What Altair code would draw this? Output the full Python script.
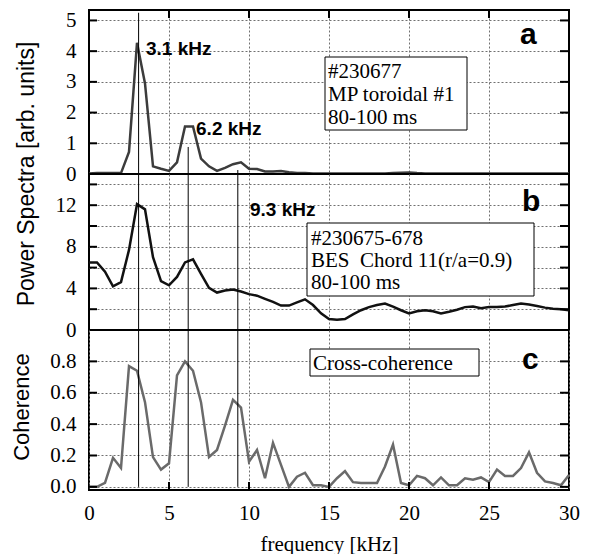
import altair as alt
import pandas as pd

# ---------------- data ----------------
freq = [0.0, 0.5, 1.0, 1.5, 2.0, 2.5, 3.0, 3.5, 4.0, 4.5,
        5.0, 5.5, 6.0, 6.5, 7.0, 7.5, 8.0, 8.5, 9.0, 9.5,
        10.0, 10.5, 11.0, 11.5, 12.0, 12.5, 13.0, 13.5, 14.0, 14.5,
        15.0, 15.5, 16.0, 16.5, 17.0, 17.5, 18.0, 18.5, 19.0, 19.5,
        20.0, 20.5, 21.0, 21.5, 22.0, 22.5, 23.0, 23.5, 24.0, 24.5,
        25.0, 25.5, 26.0, 26.5, 27.0, 27.5, 28.0, 28.5, 29.0, 29.5, 30.0]

mp_power = [0.02, 0.03, 0.03, 0.03, 0.03, 0.72, 4.27, 2.95, 0.25, 0.17,
            0.10, 0.38, 1.55, 1.55, 0.50, 0.25, 0.10, 0.20, 0.32, 0.38,
            0.17, 0.16, 0.08, 0.08, 0.10, 0.06, 0.03, 0.03, 0.02, 0.02,
            0.02, 0.02, 0.02, 0.02, 0.02, 0.02, 0.02, 0.02, 0.03, 0.04,
            0.05, 0.03, 0.02, 0.02, 0.02, 0.02, 0.02, 0.02, 0.02, 0.02,
            0.02, 0.02, 0.02, 0.02, 0.02, 0.02, 0.02, 0.02, 0.02, 0.02, 0.02]

bes_power = [6.5, 6.5, 5.6, 4.2, 4.6, 7.7, 12.1, 11.6, 7.0, 4.7,
             4.3, 5.1, 6.5, 6.8, 5.4, 4.05, 3.6, 3.8, 3.9, 3.7,
             3.45, 3.3, 3.0, 2.7, 2.35, 2.35, 2.65, 2.95, 2.4, 1.6,
             1.05, 0.98, 1.05, 1.5, 1.9, 2.2, 2.4, 2.55, 2.25, 1.9,
             1.6, 1.8, 1.9, 1.8, 1.6, 1.75, 1.95, 2.2, 2.25, 2.1,
             2.2, 2.2, 2.25, 2.4, 2.55, 2.45, 2.3, 2.15, 2.05, 2.0, 1.9]

coherence = [0.0, 0.0, 0.025, 0.185, 0.12, 0.77, 0.74, 0.54, 0.19, 0.11,
             0.15, 0.71, 0.80, 0.74, 0.54, 0.19, 0.235, 0.39, 0.555, 0.505,
             0.16, 0.235, 0.055, 0.28, 0.14, 0.0, 0.065, 0.09, 0.01, 0.01,
             0.0, 0.055, 0.10, 0.03, 0.025, 0.025, 0.025, 0.13, 0.27, 0.025,
             0.01, 0.07, 0.055, 0.01, 0.06, 0.01, 0.01, 0.055, 0.045, 0.06,
             0.03, 0.11, 0.07, 0.07, 0.12, 0.22, 0.09, 0.035, 0.025, 0.01, 0.075]

peak_freqs = [3.1, 6.2, 9.3]
peak_tops_a = [5.25, 0.88, 0.13]
peak_labels_a = ["3.1 kHz", "6.2 kHz"]
peak_label_x_a = [3.56, 6.69]
peak_label_y_a = [3.87, 1.28]
peak_labels_b = ["9.3 kHz"]
peak_label_x_b = [10.06]
peak_label_y_b = [10.96]

x_grid_vals = [5, 10, 15, 20, 25]
x_label_vals = [0, 5, 10, 15, 20, 25, 30]
a_ticks = [0, 1, 2, 3, 4, 5]
b_ticks = [0, 2, 4, 6, 8, 10, 12, 14]
c_ticks = [0.0, 0.2, 0.4, 0.6, 0.8]

box_a_text = "#230677\nMP toroidal #1\n80-100 ms"
box_b_text = "#230675-678\nBES\u00a0 Chord 11(r/a=0.9)\n80-100 ms"
box_c_text = "Cross-coherence"

# ---------------- layout ----------------
W, HA, HB, HC = 480, 164, 156, 160
SERIF = "Liberation Serif"
SANS = "Liberation Sans"

xs = alt.Scale(domain=[0, 30], nice=False, zero=False)
ya = alt.Scale(domain=[0, 5.34], nice=False, zero=False)
yb = alt.Scale(domain=[0, 15], nice=False, zero=False)
yc = alt.Scale(domain=[-0.02, 1.0], nice=False, zero=False)

GRID = dict(grid=True, gridColor="#707070", gridDash=[2, 2], gridWidth=1,
            ticks=False, tickSize=0, domain=False,
            labelFont=SERIF, labelFontSize=21, labelColor="black", labelFlush=False)

df_a = pd.DataFrame({"f": freq, "p": mp_power})
df_b = pd.DataFrame({"f": freq, "p": bes_power})
df_c = pd.DataFrame({"f": freq, "p": coherence})
one = pd.DataFrame({"k": [0]})


def y_ticks(vals, yscale):
    d = pd.DataFrame({"v": vals})
    base = alt.Chart(d).mark_rule(color="black", strokeWidth=2)
    left = base.encode(y=alt.Y("v:Q", scale=yscale, axis=None),
                       x=alt.value(0), x2=alt.value(8))
    right = base.encode(y=alt.Y("v:Q", scale=yscale, axis=None),
                        x=alt.value(W - 9), x2=alt.value(W))
    return [left, right]


def x_ticks(y0, y1):
    d = pd.DataFrame({"v": x_grid_vals})
    return alt.Chart(d).mark_rule(color="black", strokeWidth=2).encode(
        x=alt.X("v:Q", scale=xs, axis=None), y=alt.value(y0), y2=alt.value(y1))


def peak_rules(tops, bots, yscale):
    d = pd.DataFrame({"f": peak_freqs, "top": tops, "bot": bots})
    return alt.Chart(d).mark_rule(color="black", strokeWidth=1).encode(
        x=alt.X("f:Q", scale=xs, axis=None),
        y=alt.Y("top:Q", scale=yscale, axis=None),
        y2="bot:Q")


def box(x0, x1, y0, y1):
    return alt.Chart(one).mark_rect(fill="white", stroke="black", strokeWidth=1).encode(
        x=alt.value(x0), x2=alt.value(x1), y=alt.value(y0), y2=alt.value(y1))


def box_text(txt, x, y, lh):
    return alt.Chart(one).mark_text(font=SERIF, fontSize=21, align="left",
                                    baseline="alphabetic", lineBreak="\n",
                                    lineHeight=lh, color="black").encode(
        x=alt.value(x), y=alt.value(y), text=alt.value(txt))


def letter(txt, x, y):
    return alt.Chart(one).mark_text(font=SANS, fontSize=30, fontWeight="bold",
                                    align="left", baseline="alphabetic",
                                    color="black").encode(
        x=alt.value(x), y=alt.value(y), text=alt.value(txt))


def side_title(txt, x, y, size):
    return alt.Chart(one).mark_text(font=SANS, fontSize=size, angle=270,
                                    align="center", baseline="middle",
                                    color="black").encode(
        x=alt.value(x), y=alt.value(y), text=alt.value(txt))


def peak_text(labels, xv, yv, yscale):
    d = pd.DataFrame({"label": labels, "x": xv, "y": yv})
    return alt.Chart(d).mark_text(font=SANS, fontSize=19, fontWeight="bold",
                                  align="left", baseline="alphabetic",
                                  color="black").encode(
        x=alt.X("x:Q", scale=xs, axis=None),
        y=alt.Y("y:Q", scale=yscale, axis=None),
        text="label:N")


# ---- panel a ----
line_a = alt.Chart(df_a).mark_line(color="#3c3c3c", strokeWidth=2.5).encode(
    x=alt.X("f:Q", scale=xs, axis=alt.Axis(values=x_grid_vals, labels=False, title=None, **GRID)),
    y=alt.Y("p:Q", scale=ya, axis=alt.Axis(values=a_ticks, format="d", labelPadding=13,
                                           title=None, **GRID)),
)
panel_a = alt.layer(
    line_a,
    peak_rules(peak_tops_a, [0, 0, 0], ya),
    *y_ticks(a_ticks, ya),
    x_ticks(0, 8),
    box(236, 378, 47, 120),
    box_text(box_a_text, 239, 68, 23),
    peak_text(peak_labels_a, peak_label_x_a, peak_label_y_a, ya),
    letter("a", 431, 34),
    side_title("Power Spectra [arb. units]", -62, 164, 23),
).resolve_axis(x="independent", y="independent").properties(width=W, height=HA)

# ---- panel b ----
line_b = alt.Chart(df_b).mark_line(color="#111111", strokeWidth=2.5).encode(
    x=alt.X("f:Q", scale=xs, axis=alt.Axis(values=x_grid_vals, labels=False, title=None, **GRID)),
    y=alt.Y("p:Q", scale=yb, axis=alt.Axis(values=b_ticks, format="d", labelPadding=13, title=None,
                                           labelExpr="datum.value % 4 === 0 ? datum.label : ''",
                                           **GRID)),
)
panel_b = alt.layer(
    line_b,
    peak_rules([15, 15, 15], [0, 0, 0], yb),
    *y_ticks(b_ticks, yb),
    box(218, 445, 49, 122),
    box_text(box_b_text, 222, 71, 22),
    peak_text(peak_labels_b, peak_label_x_b, peak_label_y_b, yb),
    letter("b", 433, 37),
).resolve_axis(x="independent", y="independent").properties(width=W, height=HB)

# ---- panel c ----
line_c = alt.Chart(df_c).mark_line(color="#6a6a6a", strokeWidth=2.5).encode(
    x=alt.X("f:Q", scale=xs, axis=alt.Axis(values=x_label_vals, format="d",
                                           labelPadding=12, title="frequency [kHz]",
                                           titlePadding=10, titleFont=SERIF, titleFontSize=21,
                                           titleFontWeight="normal", titleColor="black",
                                           **GRID)),
    y=alt.Y("p:Q", scale=yc, axis=alt.Axis(values=c_ticks, format=".1f", labelPadding=13,
                                           title=None, **GRID)),
)
panel_c = alt.layer(
    line_c,
    peak_rules([1.0, 1.0, 1.0], [0.0, 0.0, 0.0], yc),
    *y_ticks(c_ticks, yc),
    x_ticks(HC - 8, HC),
    box(221, 390, 19, 46),
    box_text(box_c_text, 224, 40, 22),
    letter("c", 433, 39),
    side_title("Coherence", -67, 77, 22),
).resolve_axis(x="independent", y="independent").properties(width=W, height=HC)

chart = alt.vconcat(panel_a, panel_b, panel_c, spacing=0, bounds="flush").properties(
    padding={"left": 2, "top": 0, "right": 5, "bottom": 0}
).configure_view(
    stroke="black", strokeWidth=2
)

chart.save("out.html", embed_options={"renderer": "svg", "actions": False})
